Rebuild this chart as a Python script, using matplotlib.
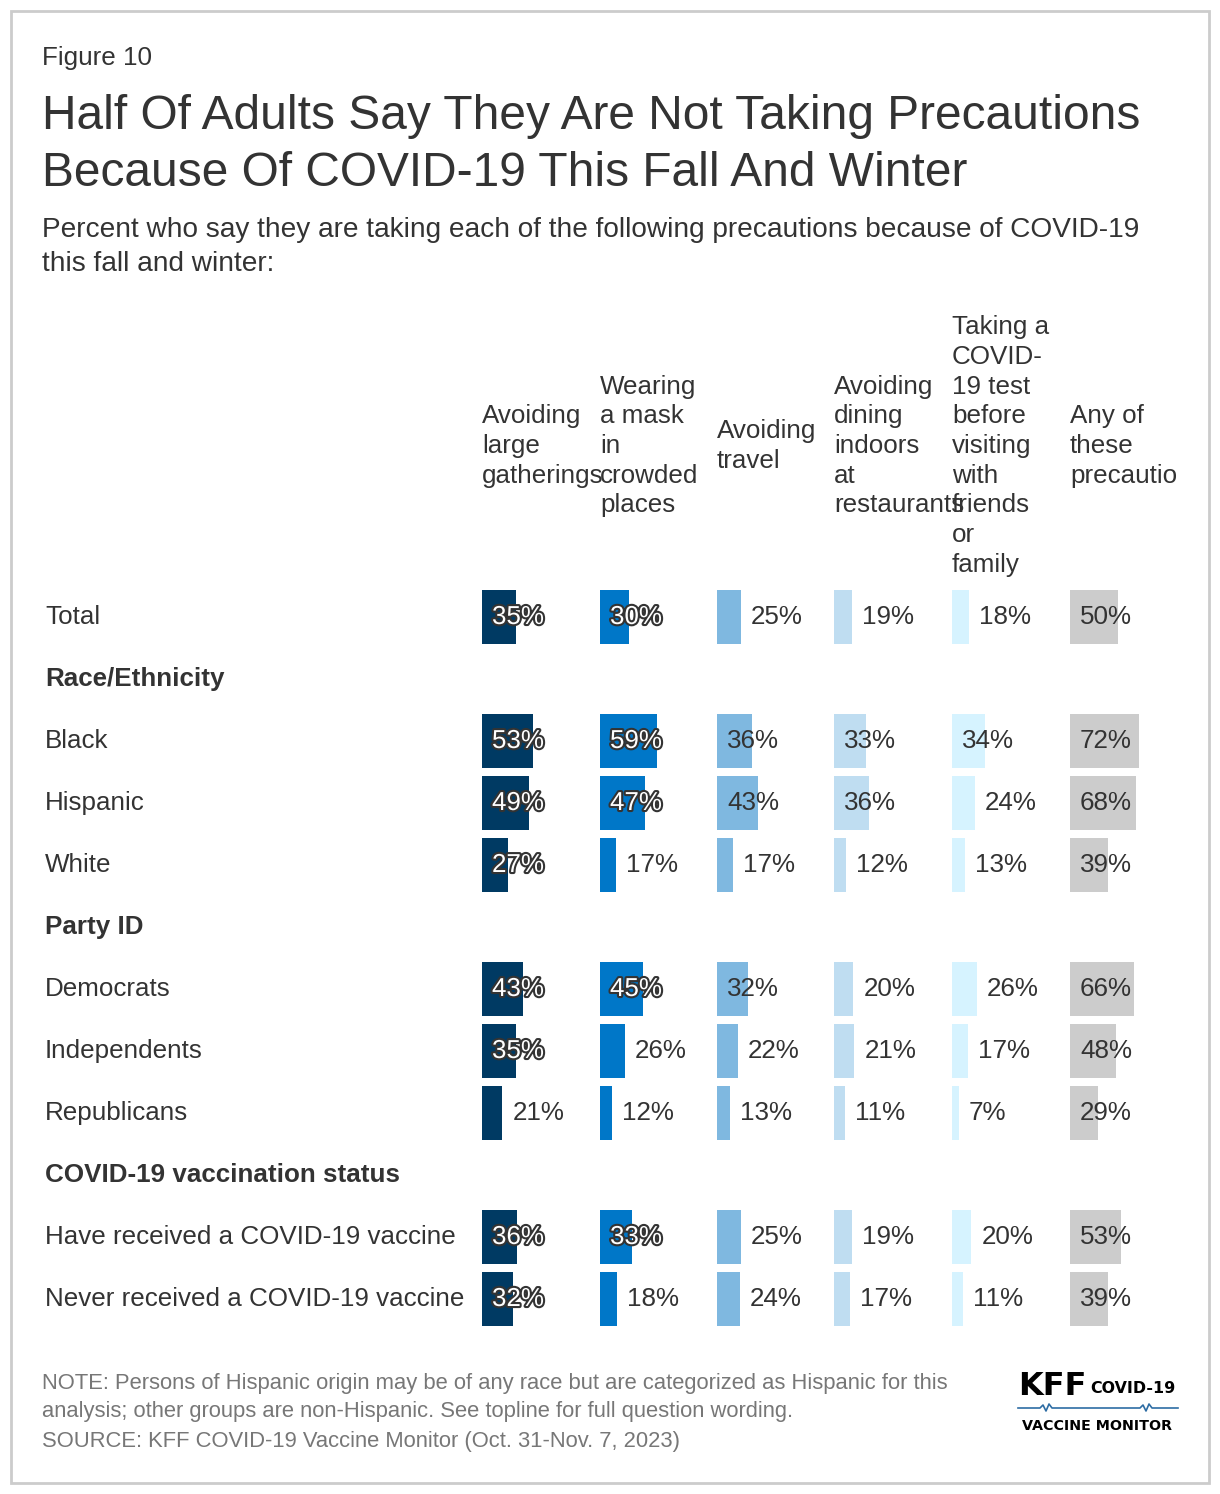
import matplotlib
matplotlib.use("Agg")
import matplotlib.pyplot as plt
import matplotlib.patheffects as pe
from matplotlib.patches import Rectangle

plt.rcParams['font.family'] = ['Liberation Sans', 'DejaVu Sans']

# data
rows = ["Total", "Race/Ethnicity", "Black", "Hispanic", "White", "Party ID",
        "Democrats", "Independents", "Republicans", "COVID-19 vaccination status",
        "Have received a COVID-19 vaccine", "Never received a COVID-19 vaccine"]
is_header = [False, True, False, False, False, True, False, False, False, True, False, False]

columns = ["Avoiding\nlarge\ngatherings",
           "Wearing\na mask\nin\ncrowded\nplaces",
           "Avoiding\ntravel",
           "Avoiding\ndining\nindoors\nat\nrestaurants",
           "Taking a\nCOVID-\n19 test\nbefore\nvisiting\nwith\nfriends\nor\nfamily",
           "Any of\nthese\nprecautio"]

gatherings = [35, None, 53, 49, 27, None, 43, 35, 21, None, 36, 32]
mask       = [30, None, 59, 47, 17, None, 45, 26, 12, None, 33, 18]
travel     = [25, None, 36, 43, 17, None, 32, 22, 13, None, 25, 24]
dining     = [19, None, 33, 36, 12, None, 20, 21, 11, None, 19, 17]
test       = [18, None, 34, 24, 13, None, 26, 17, 7, None, 20, 11]
any_prec   = [50, None, 72, 68, 39, None, 66, 48, 29, None, 53, 39]
series = [gatherings, mask, travel, dining, test, any_prec]

colors = ["#003A63", "#0077C8", "#7FB8E0", "#BFDDF1", "#D6F3FF", "#CCCCCC"]
outlined = [True, True, False, False, False, False]

W, H = 1220, 1494
fig = plt.figure(figsize=(W / 100, H / 100), dpi=100)

def fx(px):
    return px / W

def fy(py):
    return 1 - py / H

TXT = "#333333"
FS = 18.7

# frame
fig.patches.append(Rectangle((fx(11), fy(1483)), fx(1209) - fx(11), fy(11) - fy(1483),
                             transform=fig.transFigure, fill=False, edgecolor="#cccccc", lw=2))

# titles
fig.text(fx(42), fy(58), "Figure 10", fontsize=18.7, color=TXT, va="center")
fig.text(fx(42), fy(145), "Half Of Adults Say They Are Not Taking Precautions\nBecause Of COVID-19 This Fall And Winter",
         fontsize=34.5, color=TXT, va="center", linespacing=1.36)
fig.text(fx(42), fy(247), "Percent who say they are taking each of the following precautions because of COVID-19\nthis fall and winter:",
         fontsize=20.2, color=TXT, va="center", linespacing=1.4)

# row labels
row_y0, row_step = 617, 62
for i, (name, hdr) in enumerate(zip(rows, is_header)):
    fig.text(fx(45), fy(row_y0 + i * row_step), name, fontsize=FS, color=TXT, va="center",
             fontweight="bold" if hdr else "normal")

# columns
col_x = [482, 600, 717, 834, 952, 1070]
col_w = 117.6
px_per_pct = 0.965
xmax = col_w / px_per_pct
pad = 10 / px_per_pct
top_px = row_y0 - row_step / 2
bot_px = row_y0 + (len(rows) - 1) * row_step + row_step / 2

for c in range(len(columns)):
    ax = fig.add_axes([fx(col_x[c]), fy(bot_px), col_w / W, (bot_px - top_px) / H])
    ax.set_xlim(0, xmax)
    ax.set_ylim(len(rows) - 0.5, -0.5)
    ax.axis("off")
    ypos = [i for i, v in enumerate(series[c]) if v is not None]
    vals = [v for v in series[c] if v is not None]
    ax.barh(ypos, vals, height=0.87, color=colors[c])
    for y, v in zip(ypos, vals):
        inside = v >= 27
        x = pad if inside else v + pad
        if inside and outlined[c]:
            ax.text(x, y, f"{v}%", fontsize=FS, color="white", va="center", ha="left",
                    path_effects=[pe.withStroke(linewidth=3, foreground="#333333")])
        else:
            ax.text(x, y, f"{v}%", fontsize=FS, color=TXT, va="center", ha="left")
    fig.text(fx(col_x[c]), fy(446), columns[c], fontsize=FS, color=TXT, va="center",
             ha="left", linespacing=1.3)

# notes
fig.text(fx(42), fy(1412),
         "NOTE: Persons of Hispanic origin may be of any race but are categorized as Hispanic for this\n"
         "analysis; other groups are non-Hispanic. See topline for full question wording.\n"
         "SOURCE: KFF COVID-19 Vaccine Monitor (Oct. 31-Nov. 7, 2023)",
         fontsize=15.8, color="#777777", va="center", linespacing=1.5)

# logo
fig.text(fx(1018), fy(1395), "KFF", fontsize=23, fontweight="bold", color="black",
         family=["DejaVu Sans"], va="baseline")
fig.text(fx(1090), fy(1393), "COVID-19", fontsize=11.4, fontweight="bold", color="black",
         family=["DejaVu Sans"], va="baseline")
wave_x = [1018, 1040, 1043, 1046, 1049, 1052, 1140, 1143, 1146, 1149, 1152, 1178]
wave_y = [1408, 1408, 1405, 1411, 1404, 1408, 1408, 1405, 1411, 1404, 1408, 1408]
fig.add_artist(plt.Line2D([fx(x) for x in wave_x], [fy(y) for y in wave_y],
                          transform=fig.transFigure, color="#2E6DA4", lw=1.2))
fig.text(fx(1022), fy(1426), "VACCINE MONITOR", fontsize=10.3, fontweight="bold", color="black",
         family=["DejaVu Sans"], va="center")

fig.savefig("out.png", dpi=100)
